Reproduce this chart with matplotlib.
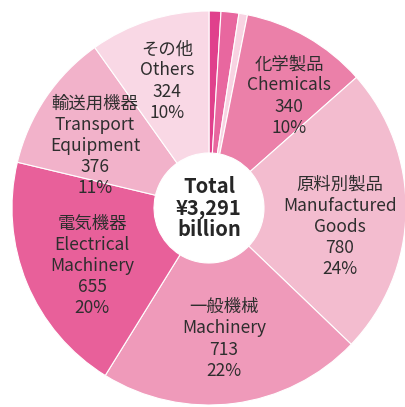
import matplotlib
matplotlib.use("Agg")
import matplotlib.pyplot as plt

plt.rcParams['font.family'] = ['Noto Sans CJK JP', 'DejaVu Sans']

# Data (billion yen), clockwise from 12 o'clock
names_jp = ['', '', '', '化学製品', '原料別製品', '一般機械', '電気機器', '輸送用機器', 'その他']
names_en = ['', '', '', 'Chemicals', 'Manufactured\nGoods', 'Machinery',
            'Electrical\nMachinery', 'Transport\nEquipment', 'Others']
values = [32, 48, 23, 340, 780, 713, 655, 376, 324]
percents = ['', '', '', '10%', '24%', '22%', '20%', '11%', '10%']
colors = ['#e0408c', '#e8679f', '#f8d3e2', '#eb80a9', '#f3bccf',
          '#ef9aba', '#e8609a', '#f2b2ca', '#f9d8e5']
total_label = 'Total\n¥3,291\nbillion'

W, H = 406, 407
# label centres in pixel coordinates (x, y from top)
label_pos = [None, None, None, (289, 96), (340, 227), (224, 339),
             (92, 266), (95, 146), (167, 81)]


def pie_chart():
    fig = plt.figure(figsize=(W / 100, H / 100), dpi=100)
    ax = fig.add_axes([0, 0, 1, 1])

    cx, cy, r, hole = 209, H - 208, 197, 55
    ax.pie(values, colors=colors, startangle=90, counterclock=False,
           center=(cx, cy), radius=r, frame=True,
           wedgeprops=dict(width=r - hole, edgecolor='white', linewidth=0.8))
    ax.set_xlim(0, W)
    ax.set_ylim(0, H)
    ax.set_aspect('equal')
    ax.axis('off')

    for i, pos in enumerate(label_pos):
        if pos is None:
            continue
        txt = f"{names_jp[i]}\n{names_en[i]}\n{values[i]:,}\n{percents[i]}"
        ax.text(pos[0], H - pos[1], txt, ha='center', va='center',
                fontsize=12.5, color='#2e2e2e', linespacing=1.22)

    ax.text(cx, cy, total_label, ha='center', va='center', fontsize=14.5,
            fontweight='bold', color='#262626', linespacing=1.03)

    fig.savefig('out.png', dpi=100)


if __name__ == "__main__":
    pie_chart()
